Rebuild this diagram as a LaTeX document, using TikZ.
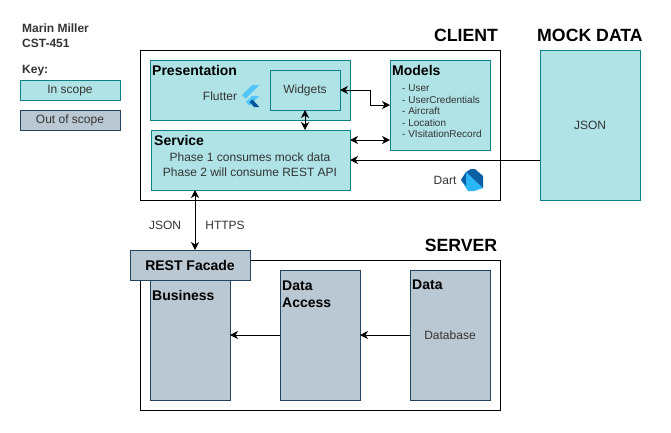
\documentclass[tikz,border=0pt]{standalone}
\usepackage{fontspec}
\setmainfont{Liberation Sans}
\usetikzlibrary{arrows.meta}
\definecolor{inscope}{HTML}{B0E3E6}
\definecolor{inscopeline}{HTML}{0E8088}
\definecolor{outscope}{HTML}{BAC8D3}
\definecolor{outscopeline}{HTML}{23445D}
\definecolor{bodytext}{HTML}{333333}
\definecolor{flutterlight}{HTML}{54C5F8}
\definecolor{flutterdark}{HTML}{01579B}
\definecolor{dartdark}{HTML}{0B5FA5}
\definecolor{dartlight}{HTML}{29B6F6}
\begin{document}
\begin{tikzpicture}[
    x=1pt, y=-1pt,
    frame/.style={rectangle, draw=black, line width=1pt, fill=white, anchor=north west,
        inner sep=0pt, outer sep=0pt},
    inbox/.style={rectangle, draw=inscopeline, line width=1pt, fill=inscope, anchor=north west,
        inner sep=0pt, outer sep=0pt},
    outbox/.style={rectangle, draw=outscopeline, line width=1pt, fill=outscope, anchor=north west,
        inner sep=0pt, outer sep=0pt},
    heading/.style={font=\fontsize{17.7}{20}\selectfont\bfseries, text=black, inner sep=0pt},
    title/.style={font=\fontsize{14}{17}\selectfont\bfseries, text=black, anchor=west,
        align=left, inner sep=0pt},
    label/.style={font=\fontsize{12}{15}\selectfont, text=bodytext, inner sep=0pt, align=center},
    small/.style={font=\fontsize{10}{11.5}\selectfont, text=bodytext, inner sep=0pt,
        align=left, anchor=west},
    link/.style={draw=black, line width=1pt, -{Stealth[length=8pt,width=8pt,inset=2.5pt]}},
    twoway/.style={draw=black, line width=1pt,
        {Stealth[length=8pt,width=8pt,inset=2.5pt]}-{Stealth[length=8pt,width=8pt,inset=2.5pt]}}]
\useasboundingbox (0,0) rectangle (671,432);

\node (Author) [anchor=north west, font=\fontsize{12}{15}\selectfont\bfseries, text=bodytext,
    align=left, inner sep=0pt] at (22,23.5) {Marin Miller\\CST-451};
\node (KeyTitle) [anchor=west, font=\fontsize{12}{15}\selectfont\bfseries, text=bodytext,
    inner sep=0pt] at (22,71) {Key:};
\node (KeyIn) [inbox, minimum width=100pt, minimum height=20pt] at (20,80) {};
\node (KeyInText) [label] at (70,90.5) {In scope};
\node (KeyOut) [outbox, minimum width=100pt, minimum height=20pt] at (20,110) {};
\node (KeyOutText) [label] at (70,120.5) {Out of scope};

\node (Client) [frame, minimum width=360pt, minimum height=150pt] at (140,50) {};
\node (ClientTitle) [heading] at (466,35) {CLIENT};
\node (Presentation) [inbox, minimum width=200pt, minimum height=60pt] at (150,60) {};
\node (PresentationTitle) [title] at (152,70) {Presentation};
\node (FlutterText) [label] at (220,96) {Flutter};
\node (Widgets) [inbox, minimum width=70pt, minimum height=40pt] at (270,70) {};
\node (WidgetsText) [label] at (Widgets.center) {Widgets};
\node (Service) [inbox, minimum width=199pt, minimum height=60pt] at (151,130) {};
\node (ServiceTitle) [title] at (154,140) {Service};
\node (ServiceText) [label] at (250,165) {Phase 1 consumes mock data\\Phase 2 will consume REST API};
\node (Models) [inbox, minimum width=100pt, minimum height=90pt] at (390,60) {};
\node (ModelsTitle) [title] at (392,70) {Models};
\node (ModelsText) [small] at (402,111.5) {- User\\- UserCredentials\\- Aircraft\\- Location\\- VIsitationRecord};
\node (DartText) [label] at (445,180) {Dart};

\node (Mock) [inbox, minimum width=100pt, minimum height=150pt] at (540,50) {};
\node (MockTitle) [heading] at (590,35) {MOCK DATA};
\node (MockText) [label] at (Mock.center) {JSON};

\node (Server) [frame, minimum width=360pt, minimum height=150pt] at (140,260) {};
\node (ServerTitle) [heading] at (461,245) {SERVER};
\node (Business) [outbox, minimum width=80pt, minimum height=120pt] at (150,280) {};
\node (BusinessTitle) [title] at (152,295) {Business};
\node (Access) [outbox, minimum width=80pt, minimum height=130pt] at (280,270) {};
\node (AccessTitle) [title, anchor=north west] at (282,280.5) {Data\\Access};
\node (Data) [outbox, minimum width=80pt, minimum height=130pt] at (410,270) {};
\node (DataTitle) [title] at (412,285) {Data};
\node (DataText) [label] at (450,335) {Database};
\node (Facade) [outbox, minimum width=120pt, minimum height=30pt] at (130,250) {};
\node (FacadeText) [label, text=black, font=\fontsize{14}{17}\selectfont\bfseries] at (Facade.center) {REST Facade};

\node (JsonText) [label] at (165,225) {JSON};
\node (HttpsText) [label] at (225,225) {HTTPS};

\coordinate (ServiceUpper) at (350,140);
\coordinate (ServiceLower) at (195,190);

\draw [twoway] (Widgets.east) -- ++(30,0) |- (Models.west);
\draw [twoway] (Widgets.south) -- (Widgets.south |- Service.north);
\draw [twoway] (ServiceUpper) -- (ServiceUpper -| Models.west);
\draw [link] (Mock.west |- Service.east) -- (Service.east);
\draw [twoway] (ServiceLower) -- (ServiceLower |- Facade.north);
\draw [link] (Access.west) -- (Access.west -| Business.east);
\draw [link] (Data.west) -- (Data.west -| Access.east);

\fill [flutterlight] (259.3,85) -- (252,85) -- (242,95) -- (245.7,98.7) -- cycle;
\fill [flutterlight] (259.3,96) -- (252,96) -- (245.7,102) -- (249.5,105.5) -- cycle;
\fill [flutterdark] (249.5,102) -- (254,107) -- (259.3,107) -- (252.5,99.5) -- cycle;

\fill [dartlight] (461,180) -- (466,172) -- (483,188) -- (474,191) -- (468,191) -- cycle;
\fill [dartdark] (466,172) -- (471,169) -- (475,169) -- (483,176) -- (483,188) -- cycle;
\fill [dartdark] (461,180) -- (466,172) -- (466,186) -- cycle;
\end{tikzpicture}
\end{document}
